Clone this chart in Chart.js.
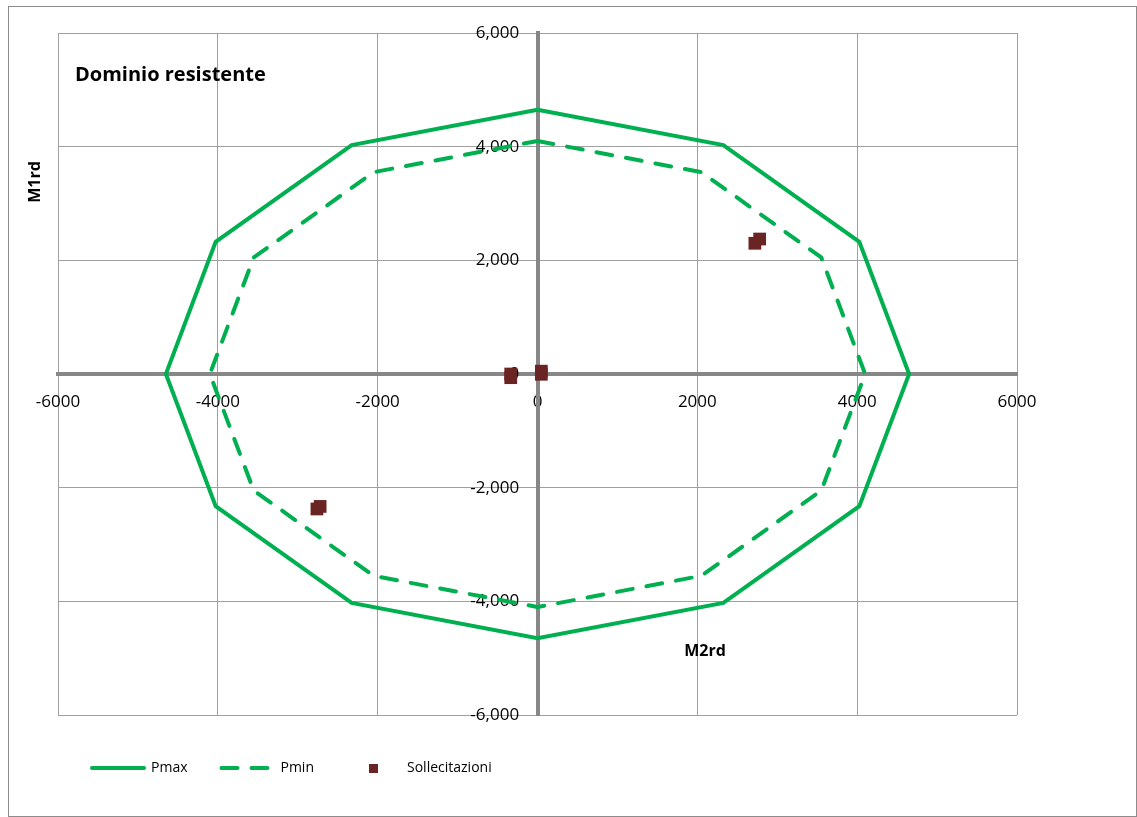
<!DOCTYPE html>
<html>
<head>
<meta charset="utf-8">
<title>Dominio resistente</title>
<script src="https://cdn.jsdelivr.net/npm/chart.js@4/dist/chart.umd.min.js"></script>
<style>
    html, body { margin: 0; padding: 0; background: #fff; }
    #wrap { position: relative; width: 1137px; height: 817px; }
    #frame {
        position: absolute; left: 8px; top: 6px; width: 1127px; height: 809px;
        border: 1px solid #8c8c8c; pointer-events: none;
    }
    canvas { position: absolute; left: 0; top: 0; }
</style>
</head>
<body>
<div id="wrap">
    <canvas id="dominio" width="1137" height="817"></canvas>
    <div id="frame"></div>
</div>
<script>
// dominio Pmax (poligono esterno)
const pmaxX = [0, 2325, 4027, 4650, 4027, 2325, 0, -2325, -4027, -4650, -4027, -2325, 0];
const pmaxY = [4650, 4027, 2325, 0, -2325, -4027, -4650, -4027, -2325, 0, 2325, 4027, 4650];

// dominio Pmin (poligono interno, tratteggiato)
const pminX = [0, 2050, 3551, 4100, 3551, 2050, 0, -2050, -3551, -4100, -3551, -2050, 0];
const pminY = [4100, 3551, 2050, 0, -2050, -3551, -4100, -3551, -2050, 0, 2050, 3551, 4100];

// sollecitazioni
const sollX = [2720, 2780, -2760, -2720, -335, -335, 48, 48];
const sollY = [2300, 2375, -2375, -2330, 0, -65, 50, -5];

const xTicks = [-6000, -4000, -2000, 0, 2000, 4000, 6000];
const yTicks = [-6000, -4000, -2000, 0, 2000, 4000, 6000];

const verde = '#00b050';
const marrone = '#6a2424';
const FONT = '"Open Sans", "Noto Sans", sans-serif';

const toPoints = (xs, ys) => xs.map((x, i) => ({x: x, y: ys[i]}));

// icona quadrata per la legenda
const squareIcon = document.createElement('canvas');
squareIcon.width = 9;
squareIcon.height = 9;
const sctx = squareIcon.getContext('2d');
sctx.fillStyle = marrone;
sctx.fillRect(0, 0, 9, 9);

// scritte dentro al grafico (titolo e nomi degli assi)
const scritte = {
    id: 'scritte',
    afterDraw(chart) {
        const ctx = chart.ctx;
        ctx.save();
        ctx.fillStyle = '#000';

        ctx.font = 'bold 20px ' + FONT;
        ctx.textAlign = 'left';
        ctx.textBaseline = 'alphabetic';
        ctx.fillText('Dominio resistente', 75, 81);

        ctx.font = 'bold 16px ' + FONT;
        ctx.textAlign = 'center';
        ctx.textBaseline = 'middle';
        ctx.fillText('M2rd', 705, 651);

        ctx.translate(35.5, 182);
        ctx.rotate(-Math.PI / 2);
        ctx.fillText('M1rd', 0, 0);
        ctx.restore();
    }
};

new Chart(document.getElementById('dominio'), {
    type: 'scatter',
    data: {
        datasets: [
            {
                label: 'Pmax',
                data: toPoints(pmaxX, pmaxY),
                showLine: true,
                borderColor: verde,
                backgroundColor: verde,
                borderWidth: 4,
                pointRadius: 0,
                tension: 0
            },
            {
                label: 'Pmin',
                data: toPoints(pminX, pminY),
                showLine: true,
                borderColor: verde,
                backgroundColor: verde,
                borderWidth: 4,
                borderDash: [16, 14],
                borderCapStyle: 'round',
                borderJoinStyle: 'round',
                pointRadius: 0,
                tension: 0
            },
            {
                label: 'Sollecitazioni',
                data: toPoints(sollX, sollY),
                showLine: false,
                pointStyle: 'rect',
                pointRadius: 9,
                backgroundColor: marrone,
                borderWidth: 0
            }
        ]
    },
    options: {
        responsive: false,
        animation: false,
        devicePixelRatio: 1,
        layout: {
            padding: {left: 58, right: 120, top: 33, bottom: 32}
        },
        scales: {
            x: {
                type: 'linear',
                min: -6000,
                max: 6000,
                position: {y: 0},
                afterBuildTicks: (axis) => { axis.ticks = xTicks.map(v => ({value: v})); },
                ticks: {
                    color: '#000',
                    font: {family: FONT, size: 17},
                    padding: 18,
                    maxRotation: 0,
                    callback: (v) => String(v)
                },
                grid: {color: '#a0a0a0', lineWidth: 1, drawTicks: false},
                border: {color: '#878787', width: 4}
            },
            y: {
                type: 'linear',
                min: -6000,
                max: 6000,
                position: {x: 0},
                afterBuildTicks: (axis) => { axis.ticks = yTicks.map(v => ({value: v})); },
                ticks: {display: false},
                grid: {color: '#a0a0a0', lineWidth: 1, drawTicks: false},
                border: {color: '#878787', width: 4}
            },
            // solo etichette dell'asse verticale, spostate a sinistra dell'asse
            yEtichette: {
                type: 'linear',
                axis: 'y',
                min: -6000,
                max: 6000,
                position: {x: -230},
                z: 1,
                afterBuildTicks: (axis) => { axis.ticks = yTicks.map(v => ({value: v})); },
                ticks: {
                    color: '#000',
                    font: {family: FONT, size: 17},
                    callback: (v) => v.toLocaleString('en-US')
                },
                grid: {display: false, drawTicks: false},
                border: {display: false}
            }
        },
        plugins: {
            title: {display: false},
            tooltip: {enabled: false},
            legend: {
                position: 'bottom',
                align: 'start',
                title: {display: true, text: '', padding: {top: 12, bottom: 0}, font: {size: 0.01, lineHeight: 0}},
                labels: {
                    usePointStyle: true,
                    pointStyleWidth: 52,
                    padding: 34,
                    color: '#000',
                    font: {family: FONT, size: 14},
                    generateLabels: (chart) => chart.data.datasets.map((ds, i) => ({
                        text: ds.label,
                        datasetIndex: i,
                        hidden: false,
                        fillStyle: ds.backgroundColor,
                        strokeStyle: ds.borderColor || ds.backgroundColor,
                        lineWidth: 4,
                        lineDash: ds.borderDash || [],
                        lineCap: 'round',
                        pointStyle: ds.showLine ? 'line' : squareIcon,
                        fontColor: '#000'
                    }))
                }
            }
        }
    },
    plugins: [scritte]
});
</script>
</body>
</html>
